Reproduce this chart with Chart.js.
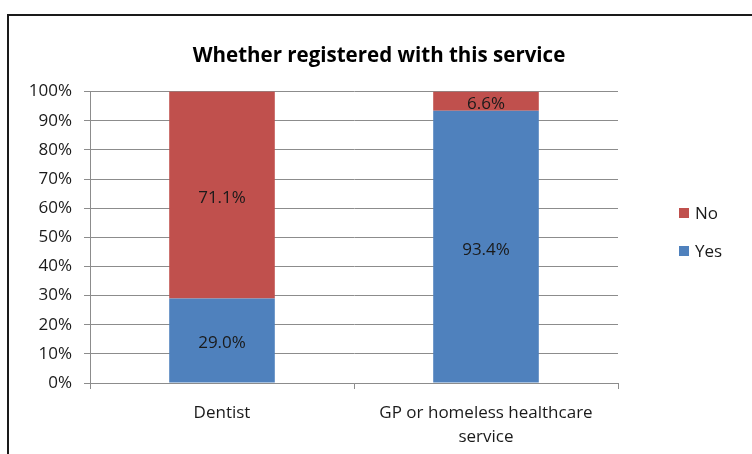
<!DOCTYPE html>
<html>
<head>
<meta charset="utf-8">
<script src="https://cdn.jsdelivr.net/npm/chart.js@4"></script>
<style>
    html, body { margin: 0; padding: 0; background: #fff; }
    #wrap { position: relative; width: 752px; height: 454px; overflow: hidden; }
    #frame {
        position: absolute; left: 7px; top: 14px; width: 800px; height: 500px;
        border-left: 2px solid #1a1a1a; border-top: 2px solid #1a1a1a;
    }
    #reg-chart { position: absolute; left: 0; top: 0; }
</style>
</head>
<body>
<div id="wrap">
    <div id="frame"></div>
    <canvas id="reg-chart" width="752" height="454"></canvas>
</div>
<script>
const categories = ['Dentist', ['GP or homeless healthcare', 'service']];
const yesValues = [29.0, 93.4];
const noValues = [71.1, 6.6];
const yTicks = [0, 10, 20, 30, 40, 50, 60, 70, 80, 90, 100];

const FONT = 'Open Sans';
const GRID = '#8c8c8c';

document.addEventListener('DOMContentLoaded', function () {
    // value labels in the middle of each stacked segment
    const segmentLabels = {
        id: 'segmentLabels',
        afterDatasetsDraw(chart) {
            const ctx = chart.ctx;
            ctx.save();
            ctx.font = '17px "' + FONT + '"';
            ctx.fillStyle = '#1a1a1a';
            ctx.textAlign = 'center';
            ctx.textBaseline = 'middle';
            chart.data.datasets.forEach((ds, i) => {
                chart.getDatasetMeta(i).data.forEach((bar, j) => {
                    const top = Math.max(bar.y, chart.chartArea.top);
                    ctx.fillText(ds.data[j].toFixed(1) + '%', bar.x, (top + bar.base) / 2 + 3);
                });
            });
            ctx.restore();
        }
    };

    // legend on the right, last series first
    const sideLegend = {
        id: 'sideLegend',
        afterDraw(chart) {
            const ctx = chart.ctx;
            const x = 679, y0 = 213, gap = 38;
            ctx.save();
            ctx.font = '17px "' + FONT + '"';
            ctx.textBaseline = 'middle';
            ctx.textAlign = 'left';
            chart.data.datasets.slice().reverse().forEach((ds, k) => {
                const y = y0 + k * gap;
                ctx.fillStyle = ds.backgroundColor;
                ctx.fillRect(x, y - 5, 10, 10);
                ctx.fillStyle = '#1a1a1a';
                ctx.fillText(ds.label, x + 16, y + 1);
            });
            ctx.restore();
        }
    };

    const ctx = document.getElementById('reg-chart').getContext('2d');
    new Chart(ctx, {
        type: 'bar',
        data: {
            labels: categories,
            datasets: [
                { label: 'Yes', data: yesValues, backgroundColor: '#4f81bd', barPercentage: 0.4, categoryPercentage: 1 },
                { label: 'No', data: noValues, backgroundColor: '#c0504d', barPercentage: 0.4, categoryPercentage: 1 }
            ]
        },
        options: {
            responsive: false,
            animation: false,
            layout: { padding: { left: 6, top: 0, right: 0, bottom: 0 } },
            plugins: {
                legend: { display: false },
                tooltip: { enabled: false },
                title: {
                    display: true,
                    text: 'Whether registered with this service',
                    color: '#000',
                    font: { family: FONT, size: 20.5, weight: 'bold', lineHeight: 1.2 },
                    padding: { top: 44, bottom: 23 }
                }
            },
            scales: {
                x: {
                    stacked: true,
                    grid: { display: true, offset: true, drawOnChartArea: false, color: GRID, tickLength: 6 },
                    border: { color: GRID },
                    ticks: {
                        color: '#1a1a1a', maxRotation: 0, autoSkip: false, padding: 12,
                        font: { family: FONT, size: 17, lineHeight: 1.4 }
                    },
                    afterFit(scale) { scale.height = 454 - 383; }
                },
                y: {
                    stacked: true,
                    min: 0,
                    max: 100,
                    afterBuildTicks(scale) { scale.ticks = yTicks.map(v => ({ value: v })); },
                    grid: { color: GRID, tickLength: 6 },
                    border: { color: GRID },
                    ticks: {
                        color: '#1a1a1a', padding: 12,
                        font: { family: FONT, size: 17 },
                        callback: v => v + '%'
                    },
                    afterFit(scale) { scale.width = 84; }
                },
                // blank right-hand axis that reserves the legend column
                side: {
                    position: 'right',
                    min: 0,
                    max: 100,
                    grid: { display: false },
                    border: { display: false },
                    ticks: { display: false },
                    afterFit(scale) { scale.width = 134; }
                }
            }
        },
        plugins: [segmentLabels, sideLegend]
    });
});
</script>
</body>
</html>
